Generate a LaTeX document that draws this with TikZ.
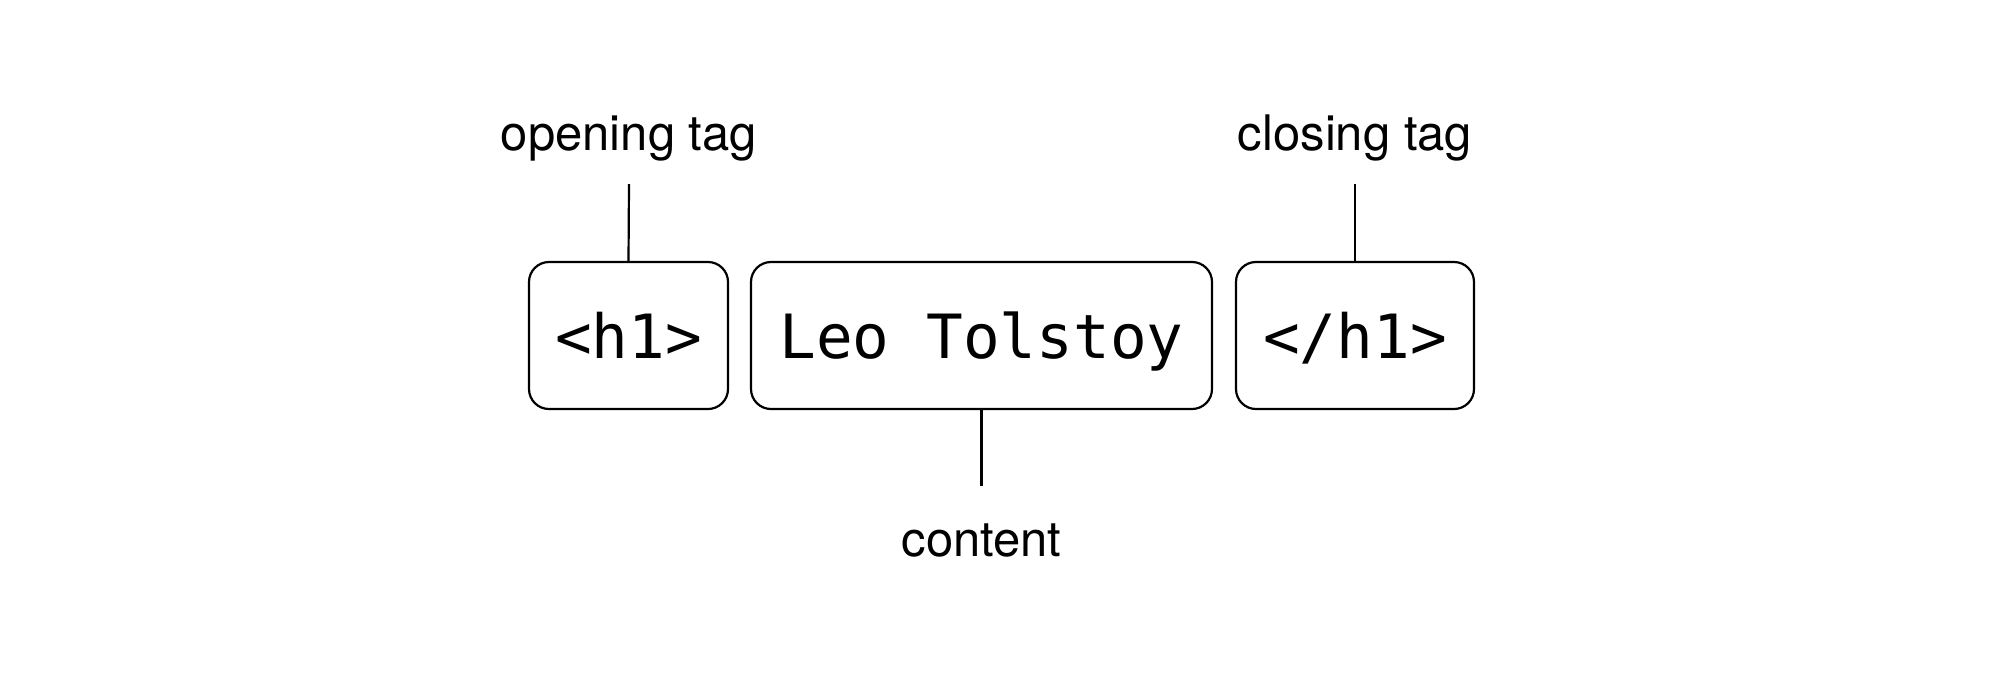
\documentclass[tikz,border=0pt]{standalone}
\usepackage{fontspec}
\setmainfont{TeX Gyre Heros}
\newfontfamily\codefont{DejaVu Sans Mono}
\begin{document}
\begin{tikzpicture}[x=1pt,y=-1pt,
  tagbox/.style={draw=black, line width=2.2pt, rounded corners=20pt,
    minimum height=147pt, inner sep=0pt, text height=45pt, text depth=0pt,
    font=\codefont\fontsize{61}{61}\selectfont},
  lbl/.style={anchor=base, inner sep=0pt, font=\fontsize{49}{49}\selectfont},
  conn/.style={line width=2.2pt}]
\useasboundingbox[fill=white] (0,0) rectangle (2000,673);
\node[tagbox, minimum width=199pt] (open) at (628.5,335.5) {<h1>};
\node[tagbox, minimum width=461pt] (cont) at (981.5,335.5) {Leo Tolstoy};
\node[tagbox, minimum width=238pt] (close) at (1355,335.5) {</h1>};
\node[lbl] (lopen) at (629,150) {opening tag};
\node[lbl] (lclose) at (1355,150) {closing tag};
\node[lbl] (lcont) at (981.5,556) {content};
\coordinate (copen) at (629,184);
\coordinate (cclose) at (1355,184);
\coordinate (ccont) at (981.5,486);
\draw[conn] (copen) -- (open.north);
\draw[conn] (cclose) -- (close.north);
\draw[conn] (cont.south) -- (ccont);
\end{tikzpicture}
\end{document}
